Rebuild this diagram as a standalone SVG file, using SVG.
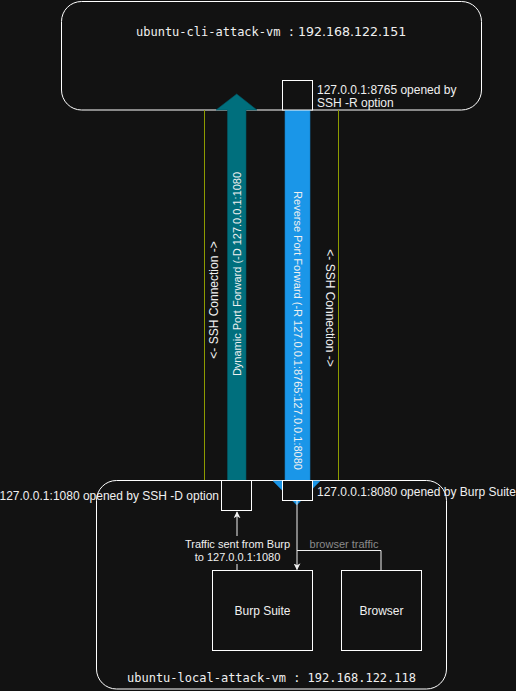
<svg xmlns="http://www.w3.org/2000/svg" width="516" height="691" viewBox="0 0 516 691">
<defs>
<style>
.box{fill:#121212;stroke:#ffffff;stroke-width:1}
.mono{font-family:"DejaVu Sans Mono","Liberation Mono",monospace;font-size:12px;fill:#f0f0f0}
.sans{font-family:"Liberation Sans",Arial,sans-serif;font-size:12px;fill:#f0f0f0}
.ssh{stroke:#8c9a00;stroke-width:1;fill:none}
.wire{stroke:#f0f0f0;stroke-width:1;fill:none}
</style>
<marker id="ah" viewBox="0 0 10 10" refX="9" refY="5" markerWidth="7" markerHeight="7" orient="auto" markerUnits="userSpaceOnUse">
<path d="M0,0 L10,5 L0,10 L3,5 Z" fill="#f0f0f0"/>
</marker>
</defs>
<rect width="516" height="691" fill="#121212"/>

<g id="cli-vm">
<rect class="box" x="61.5" y="1.5" width="420" height="108.5" rx="20" ry="20"/>
<text class="mono" x="136" y="36">ubuntu-cli-attack-vm :<tspan x="298" style="font-family:'DejaVu Sans',sans-serif;font-size:12.6px">192.168.122.151</tspan></text>
</g>

<g id="local-vm">
<rect class="box" x="96.5" y="480.5" width="350" height="208.5" rx="20" ry="20"/>
<text class="mono" x="271.5" y="682" text-anchor="middle">ubuntu-local-attack-vm : 192.168.122.118</text>
</g>

<g id="connectors">
<line class="ssh" x1="204.5" y1="110" x2="204.5" y2="480"/>
<line class="ssh" x1="338.5" y1="110" x2="338.5" y2="480"/>
<path id="dyn-arrow" d="M227.5,480.5 L227.5,110 L216,110 L236.7,94 L257,110 L246,110 L246,480.5 Z" fill="#006f7d" stroke="#005866" stroke-width="0.6"/>
<path id="rev-arrow" d="M285,110 L310,110 L310,481 L320,481 L296.7,505 L273,481 L285,481 Z" fill="#1a96e8" stroke="#1080c8" stroke-width="0.6"/>
<line class="wire" x1="237" y1="570" x2="237" y2="512" marker-end="url(#ah)"/>
<line class="wire" x1="297" y1="501" x2="297" y2="569.5" marker-end="url(#ah)"/>
<polyline class="wire" points="381,570 381,550.5 297,550.5"/>
</g>

<g id="labels">
<text class="sans" transform="translate(218,300) rotate(-90)" text-anchor="middle">&lt;- SSH Connection -&gt;</text>
<text class="sans" transform="translate(326,308) rotate(90)" text-anchor="middle">&lt;- SSH Connection -&gt;</text>
<text class="sans" transform="translate(240.5,274) rotate(-90)" text-anchor="middle" style="font-size:11px">Dynamic Port Forward (-D 127.0.0.1:1080</text>
<text class="sans" transform="translate(293.5,330.5) rotate(90)" text-anchor="middle" style="font-size:11px">Reverse Port Forward (-R 127.0.0.1:8765:127.0.0.1:8080</text>
<rect x="180" y="536" width="116" height="28" fill="#121212"/>
<text class="sans" x="237.5" y="548" text-anchor="middle" style="font-size:11px">Traffic sent from Burp</text>
<text class="sans" x="237.5" y="561" text-anchor="middle" style="font-size:11px">to 127.0.0.1:1080</text>
<text class="sans" x="344" y="548" text-anchor="middle" style="font-size:11px;fill:#8a8a8a">browser traffic</text>
</g>

<g id="port-8765">
<rect class="box" x="282.5" y="80.5" width="30" height="29.5"/>
<text class="sans" x="317" y="94">127.0.0.1:8765 opened by</text>
<text class="sans" x="317" y="107">SSH -R option</text>
</g>

<g id="port-1080">
<rect class="box" x="221.5" y="480.5" width="30" height="30"/>
<text class="sans" x="219" y="500" text-anchor="end">127.0.0.1:1080 opened by SSH -D option</text>
</g>

<g id="port-8080">
<rect class="box" x="282.5" y="480.5" width="30" height="20"/>
<text class="sans" x="317" y="496">127.0.0.1:8080 opened by Burp Suite</text>
</g>

<g id="burp-suite">
<rect class="box" x="212.5" y="570.5" width="100" height="80"/>
<text class="sans" x="262.5" y="615" text-anchor="middle">Burp Suite</text>
</g>

<g id="browser">
<rect class="box" x="341.5" y="570.5" width="80" height="80"/>
<text class="sans" x="381.5" y="615" text-anchor="middle">Browser</text>
</g>
</svg>
